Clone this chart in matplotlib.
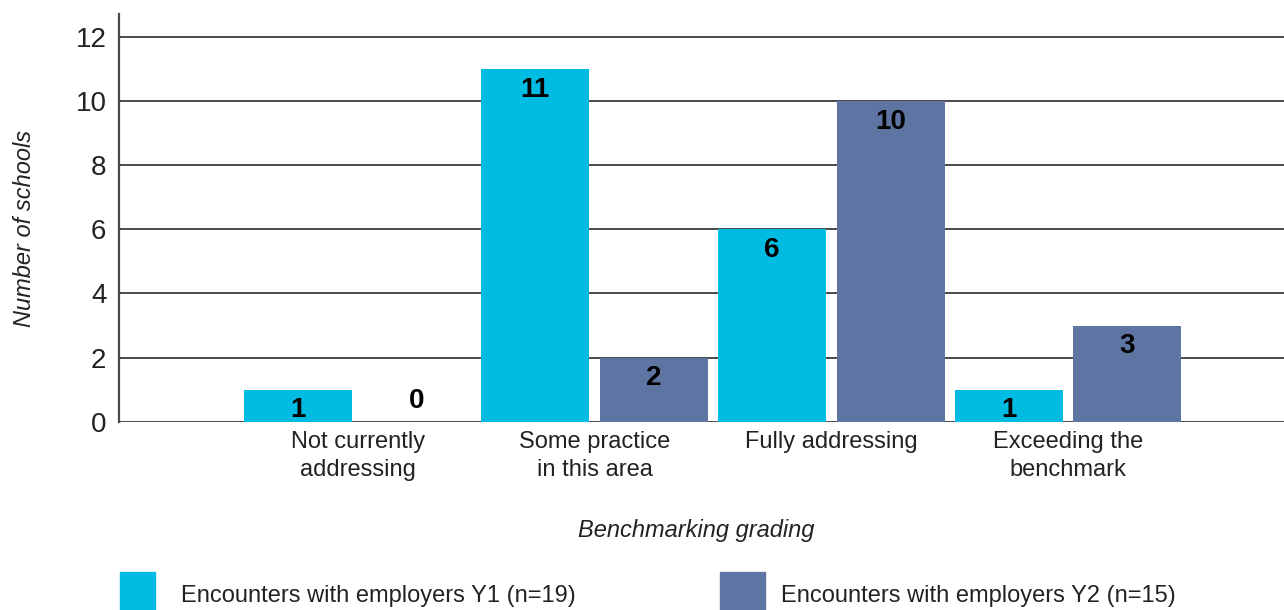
import numpy as np
import matplotlib
matplotlib.use("Agg")
import matplotlib.pyplot as plt
from matplotlib.patches import Rectangle

categories = ["Not currently\naddressing", "Some practice\nin this area",
              "Fully addressing", "Exceeding the\nbenchmark"]
y1_values = [1, 11, 6, 1]
y2_values = [0, 2, 10, 3]
series_names = ["Encounters with employers Y1 (n=19)",
                "Encounters with employers Y2 (n=15)"]
y_ticks = [0, 2, 4, 6, 8, 10, 12]

C_Y1 = "#00BCE3"
C_Y2 = "#5E75A3"
GRID = "#4a4a4a"
TXT = "#222222"

plt.rcParams["font.family"] = ["Liberation Sans", "DejaVu Sans"]

fig = plt.figure(figsize=(12.84, 6.10), dpi=100)
ax = fig.add_axes([119 / 1284, 1 - 421.7 / 610, 1 - 119 / 1284, (421.7 - 14) / 610])

x = np.arange(len(categories))
w = 0.456
off = 0.251
b1 = ax.bar(x - off, y1_values, w, color=C_Y1, zorder=3)
b2 = ax.bar(x + off, y2_values, w, color=C_Y2, zorder=3)

# value labels just inside the top of each bar (zero sits above baseline)
for bars, vals in ((b1, y1_values), (b2, y2_values)):
    for rect, v in zip(bars, vals):
        dy = 15 if v == 0 else -15
        ax.annotate(str(v), (rect.get_x() + rect.get_width() / 2, v),
                    xytext=(0, dy), textcoords="offset points",
                    ha="center", va="center", fontsize=20, fontweight="bold",
                    color="black", zorder=4)

ax.set_xlim(-1.008, 3.912)
ax.set_ylim(0, 12.72)
ax.set_yticks(y_ticks)
ax.set_yticklabels([str(t) for t in y_ticks], fontsize=20, color=TXT)
ax.set_xticks(x)
ax.set_xticklabels(categories, fontsize=17, color=TXT, linespacing=1.35)
ax.tick_params(axis="both", length=0)
ax.tick_params(axis="y", pad=9)
ax.tick_params(axis="x", pad=7)
ax.yaxis.grid(True, color=GRID, lw=1.4, zorder=1)
ax.set_axisbelow(True)
for s in ("top", "right", "bottom"):
    ax.spines[s].set_visible(False)
ax.spines["left"].set_color(GRID)
ax.spines["left"].set_linewidth(1.6)

fig.text(25 / 1284, 1 - 228 / 610, "Number of schools", rotation=90,
         ha="center", va="center", fontsize=17, style="italic", color=TXT)
fig.text(696 / 1284, 1 - 531 / 610, "Benchmarking grading",
         ha="center", va="center", fontsize=17, style="italic", color=TXT)

# legend: coloured squares running off the bottom edge
for (x0, x1, tx), name, col in zip([(120, 155, 181), (720, 765, 781)],
                                   series_names, [C_Y1, C_Y2]):
    fig.patches.append(Rectangle((x0 / 1284, 0), (x1 - x0) / 1284, (610 - 572) / 610,
                                 transform=fig.transFigure, color=col))
    fig.text(tx / 1284, 1 - 596 / 610, name, ha="left", va="center",
             fontsize=17, color=TXT)

fig.savefig("out.png", dpi=100)
